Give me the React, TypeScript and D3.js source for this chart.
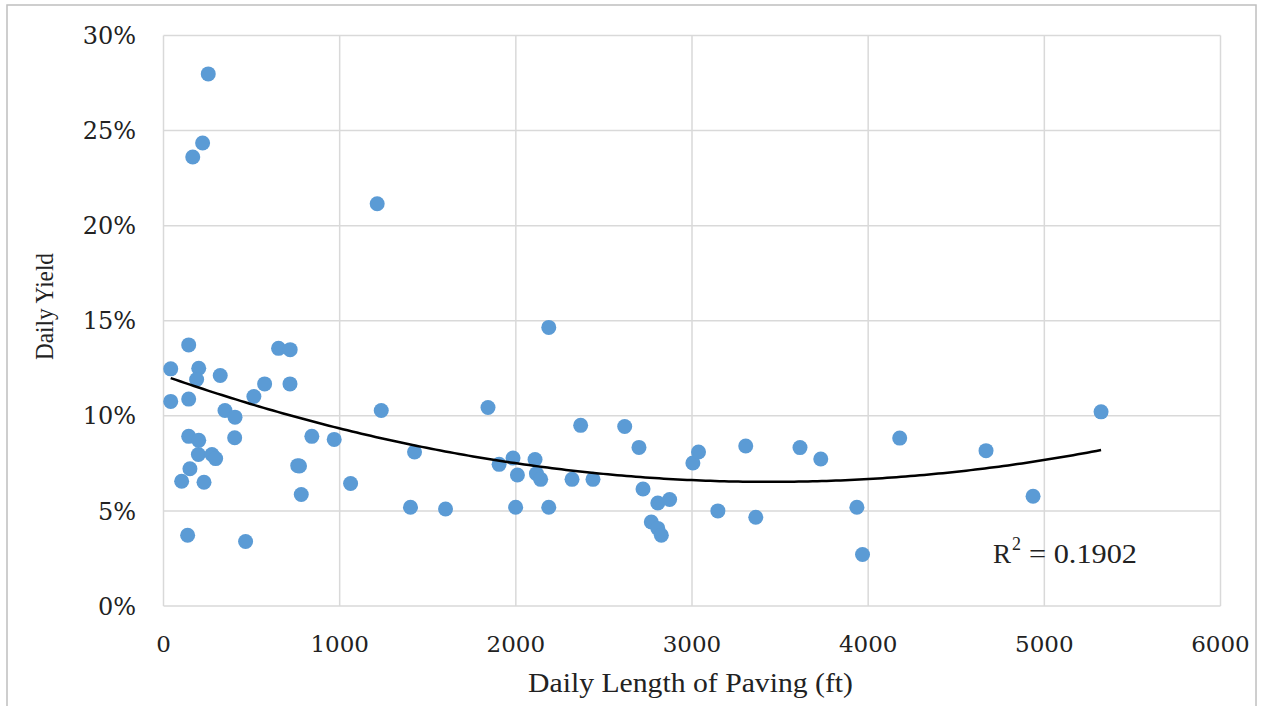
import React from "react";
import * as d3 from "d3";

const lengthFt: number[] = [
  41, 41, 143, 143, 254, 222, 166, 200, 188, 322,
  143, 200, 198, 150, 103, 230, 275, 296, 137, 349,
  406, 404, 466, 513, 574, 653, 719, 718, 842, 762,
  772, 782, 969, 1062, 1213, 1236, 1402, 1425, 1601, 1842,
  1905, 1984, 2009, 1999, 2109, 2117, 2141, 2187, 2187, 2319,
  2438, 2368, 2618, 2699, 2722, 2806, 2873, 2769, 2806, 2826,
  3005, 3037, 3147, 3305, 3613, 3731, 3362, 3936, 3968, 4179,
  4669, 4936, 5322,
];
const dailyYieldPct: number[] = [
  12.47, 10.76, 13.73, 10.88, 27.98, 24.35, 23.61, 12.5, 11.91, 12.12,
  8.92, 8.71, 7.97, 7.22, 6.56, 6.51, 7.97, 7.75, 3.72, 10.28,
  9.93, 8.85, 3.39, 11.02, 11.68, 13.55, 13.48, 11.68, 8.92, 7.38,
  7.36, 5.86, 8.76, 6.44, 21.15, 10.28, 5.19, 8.1, 5.1, 10.44,
  7.45, 7.78, 6.89, 5.19, 7.7, 6.96, 6.66, 5.19, 14.65, 6.66,
  6.66, 9.5, 9.44, 8.34, 6.15, 5.42, 5.6, 4.42, 4.08, 3.72,
  7.52, 8.1, 5.0, 8.41, 8.33, 7.73, 4.67, 5.19, 2.71, 8.83,
  8.17, 5.77, 10.21,
];
const xTicks: number[] = [0, 1000, 2000, 3000, 4000, 5000, 6000];
const yTicks: number[] = [0, 5, 10, 15, 20, 25, 30];
const r2Label = "0.1902";
const xTitle = "Daily Length of Paving (ft)";
const yTitle = "Daily Yield";

// quadratic least squares
function fitQuadratic(xs: number[], ys: number[]): [number, number, number] {
  const n = xs.length;
  let s0 = n, s1 = 0, s2 = 0, s3 = 0, s4 = 0, t0 = 0, t1 = 0, t2 = 0;
  for (let i = 0; i < n; i++) {
    const x = xs[i] / 1000, y = ys[i];
    s1 += x; s2 += x * x; s3 += x ** 3; s4 += x ** 4;
    t0 += y; t1 += x * y; t2 += x * x * y;
  }
  const A = [
    [s0, s1, s2, t0],
    [s1, s2, s3, t1],
    [s2, s3, s4, t2],
  ];
  for (let c = 0; c < 3; c++) {
    for (let r = c + 1; r < 3; r++) {
      const f = A[r][c] / A[c][c];
      for (let k = c; k < 4; k++) A[r][k] -= f * A[c][k];
    }
  }
  const sol = [0, 0, 0];
  for (let r = 2; r >= 0; r--) {
    let s = A[r][3];
    for (let k = r + 1; k < 3; k++) s -= A[r][k] * sol[k];
    sol[r] = s / A[r][r];
  }
  return [sol[0], sol[1], sol[2]];
}

export default function App() {
  const W = 1263, H = 706;
  const x = d3.scaleLinear().domain([0, 6000]).range([163.5, 1220.5]);
  const y = d3.scaleLinear().domain([0, 30]).range([606, 35.5]);
  const [a, b, c] = fitQuadratic(lengthFt, dailyYieldPct);
  const xmin = d3.min(lengthFt)!, xmax = d3.max(lengthFt)!;
  const samples = d3.range(0, 201).map((i) => xmin + ((xmax - xmin) * i) / 200);
  const line = d3
    .line<number>()
    .x((v) => x(v))
    .y((v) => {
      const t = v / 1000;
      return y(a + b * t + c * t * t);
    });
  const font = "'DejaVu Serif', serif";
  const titleFont = "'Liberation Serif', serif";
  return (
    <svg
      width={W}
      height={H}
      style={{ position: "absolute", left: 0, top: 0, background: "#fff" }}
    >
      <rect x={7} y={5} width={1249} height={710} fill="#fff" stroke="#bfbfbf" strokeWidth={1.5} />
      {xTicks.map((t) => (
        <line key={"gx" + t} x1={x(t)} x2={x(t)} y1={y(0)} y2={y(30)} stroke="#d9d9d9" strokeWidth={1.5} />
      ))}
      {yTicks.map((t) => (
        <line key={"gy" + t} x1={x(0)} x2={x(6000)} y1={y(t)} y2={y(t)} stroke="#d9d9d9" strokeWidth={1.5} />
      ))}
      {yTicks.map((t) => (
        <text key={"ty" + t} x={136} y={y(t)} dy="0.36em" textAnchor="end" fontFamily={font} fontSize={24} fill="#222">
          {t + "%"}
        </text>
      ))}
      {xTicks.map((t) => (
        <text key={"tx" + t} x={x(t)} y={652} textAnchor="middle" fontFamily={font} fontSize={23} fill="#222">
          {t}
        </text>
      ))}
      {lengthFt.map((v, i) => (
        <circle key={"p" + i} cx={x(v)} cy={y(dailyYieldPct[i])} r={7.5} fill="#5b9bd5" />
      ))}
      <path d={line(samples) || ""} fill="none" stroke="#000" strokeWidth={2.5} />
      <text x={993} y={563} fontFamily={titleFont} fontSize={27} fill="#222">R</text>
      <text x={1012} y={550} fontFamily={titleFont} fontSize={18} fill="#222">2</text>
      <text x={1029} y={563} fontFamily={titleFont} fontSize={27} fill="#222" textLength={108} lengthAdjust="spacingAndGlyphs">
        {"= " + r2Label}
      </text>
      <text x={690.5} y={692} textAnchor="middle" fontFamily={titleFont} fontSize={27} fill="#222" textLength={325} lengthAdjust="spacingAndGlyphs">
        {xTitle}
      </text>
      <text transform={`translate(53,306.5) rotate(-90)`} textAnchor="middle" fontFamily={titleFont} fontSize={25} fill="#222" textLength={107} lengthAdjust="spacingAndGlyphs">
        {yTitle}
      </text>
    </svg>
  );
}
